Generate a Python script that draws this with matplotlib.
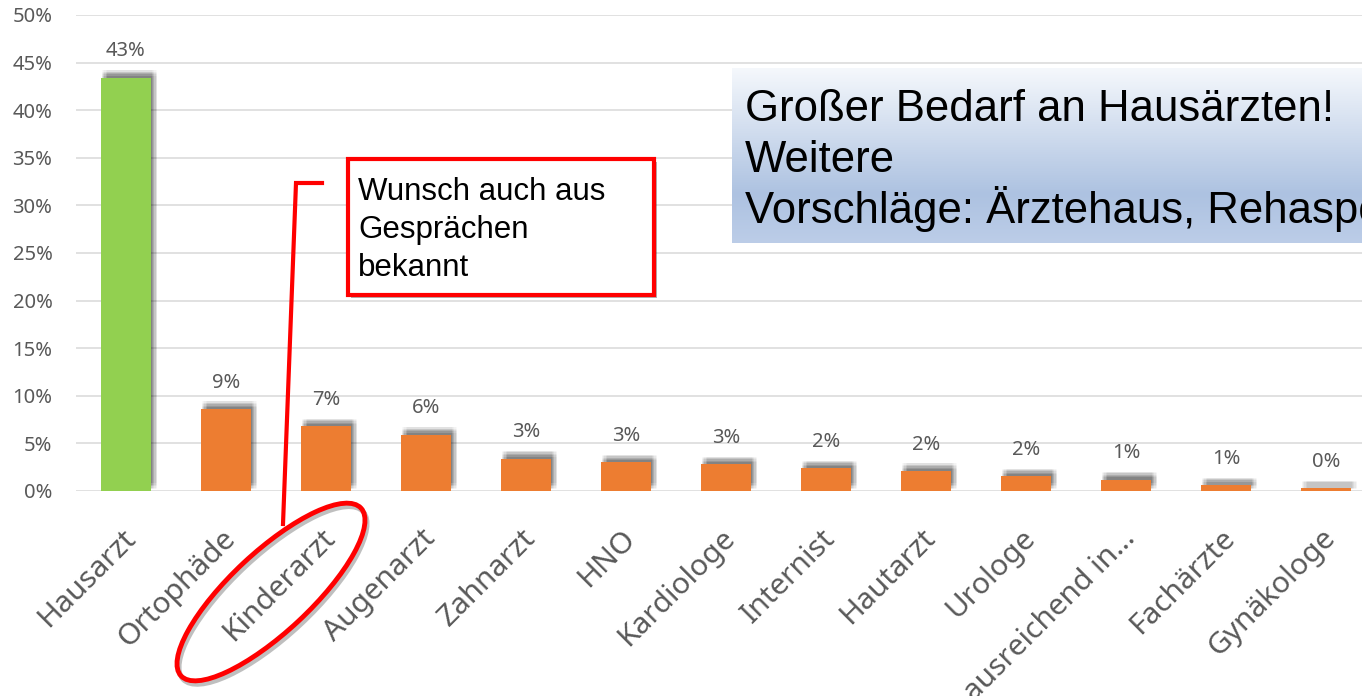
import numpy as np
import matplotlib
matplotlib.use("Agg")
import matplotlib.pyplot as plt
import matplotlib.patheffects as pe
from matplotlib.patches import Rectangle, Ellipse
from matplotlib.lines import Line2D
from matplotlib.transforms import Affine2D, ScaledTranslation
from matplotlib.colors import LinearSegmentedColormap

plt.rcParams['font.family'] = ['Noto Sans', 'DejaVu Sans']

# Daten
kategorien = ["Hausarzt", "Ortophäde", "Kinderarzt", "Augenarzt", "Zahnarzt", "HNO",
              "Kardiologe", "Internist", "Hautarzt", "Urologe", "ausreichend in…",
              "Fachärzte", "Gynäkologe"]
anteile = [43.4, 8.6, 6.8, 5.9, 3.4, 3.0, 2.8, 2.4, 2.1, 1.55, 1.2, 0.6, 0.28]
farben = ["#92d050"] + ["#ed7d31"] * 12
y_ticks = list(range(0, 51, 5))

hinweis_zeilen = ["Wunsch auch aus", "Gesprächen", "bekannt"]
fazit_zeilen = ["Großer Bedarf an Hausärzten!", "Weitere",
                "Vorschläge: Ärztehaus, Rehasport"]

grau = "#595959"

fig = plt.figure(figsize=(13.62, 6.96), dpi=100)
# Pixelkoordinaten (y nach unten) fuer die Zusatzelemente
px = Affine2D().scale(1 / 100, -1 / 100).translate(0, 6.96) + fig.dpi_scale_trans

ax = fig.add_axes([76 / 1362, 205 / 696, 1 - 76 / 1362, 476 / 696])

# weicher Schatten nach rechts oben
schatten = [pe.SimplePatchShadow(offset=(a, b), shadow_rgbFace="#000000", alpha=0.025)
            for a in (0.5, 1.5, 2.5, 3.5, 4.5) for b in (1.5, 2.5, 3.5, 4.5, 5.5)] + [pe.Normal()]

x = np.arange(len(kategorien))
ax.bar(x, anteile, width=0.5, color=farben, zorder=3, path_effects=schatten)

for i, v in enumerate(anteile):
    ax.annotate(f"{round(v)}%", (i, v), xytext=(0, 19), textcoords="offset points",
                ha="center", va="center", fontsize=14.5, color=grau)

ax.set_xlim(-0.5, 12.36)
ax.set_ylim(0, 50)
ax.set_xticks(x, kategorien, rotation=45, ha="right", va="center",
              rotation_mode="anchor", fontsize=21.5, color=grau)
ax.tick_params(axis="x", length=0, pad=31)
verschub = ScaledTranslation(5 / 100, 0, fig.dpi_scale_trans)
for lbl in ax.get_xticklabels():
    lbl.set_transform(lbl.get_transform() + verschub)
ax.set_yticks(y_ticks, [f"{t}%" for t in y_ticks])
ax.tick_params(axis="y", length=0, pad=17, labelsize=14.5, labelcolor=grau)
ax.yaxis.grid(True, color="#d9d9d9", lw=1.1)
ax.set_axisbelow(True)
for s in ax.spines.values():
    s.set_visible(False)

# blauer Kasten mit Verlauf
gax = fig.add_axes([732 / 1362, (696 - 243) / 696, 700 / 1362, 175 / 696])
verlauf = LinearSegmentedColormap.from_list(
    "verlauf", [(0, "#f5f8fc"), (0.72, "#adc2e1"), (1, "#bccde8")])
gax.imshow(np.linspace(0, 1, 256)[:, None], cmap=verlauf, aspect="auto")
gax.axis("off")
for zeile, y in zip(fazit_zeilen, [121, 172, 223]):
    fig.text(745, y, zeile, transform=px, fontsize=31.5, family="Liberation Sans",
             va="baseline", ha="left", color="black", zorder=5)

# roter Hinweiskasten
box_schatten = [pe.SimplePatchShadow(offset=(2, -2), shadow_rgbFace="#000000", alpha=0.3),
                pe.Normal()]
box = Rectangle((348, 159), 306, 136, transform=px, facecolor="white",
                edgecolor="#ff0000", lw=3, path_effects=box_schatten, zorder=3)
fig.add_artist(box)
for zeile, y in zip(hinweis_zeilen, [200, 238, 276]):
    fig.text(358, y, zeile, transform=px, fontsize=22.5, family="Liberation Sans",
             va="baseline", ha="left", color="black", zorder=5)

linie = Line2D([322, 296, 283], [183, 183, 524], transform=px, color="#ff0000",
               lw=3, solid_joinstyle="miter", zorder=3)
fig.add_artist(linie)

ellipse = Ellipse((271, 592), 246, 80, angle=-43, transform=px, fill=False,
                  edgecolor="#ff0000", lw=3.5, zorder=3,
                  path_effects=[pe.SimpleLineShadow(offset=(1.5, -2.5), alpha=0.25),
                                pe.Normal()])
fig.add_artist(ellipse)

fig.savefig("out.png", dpi=100)
